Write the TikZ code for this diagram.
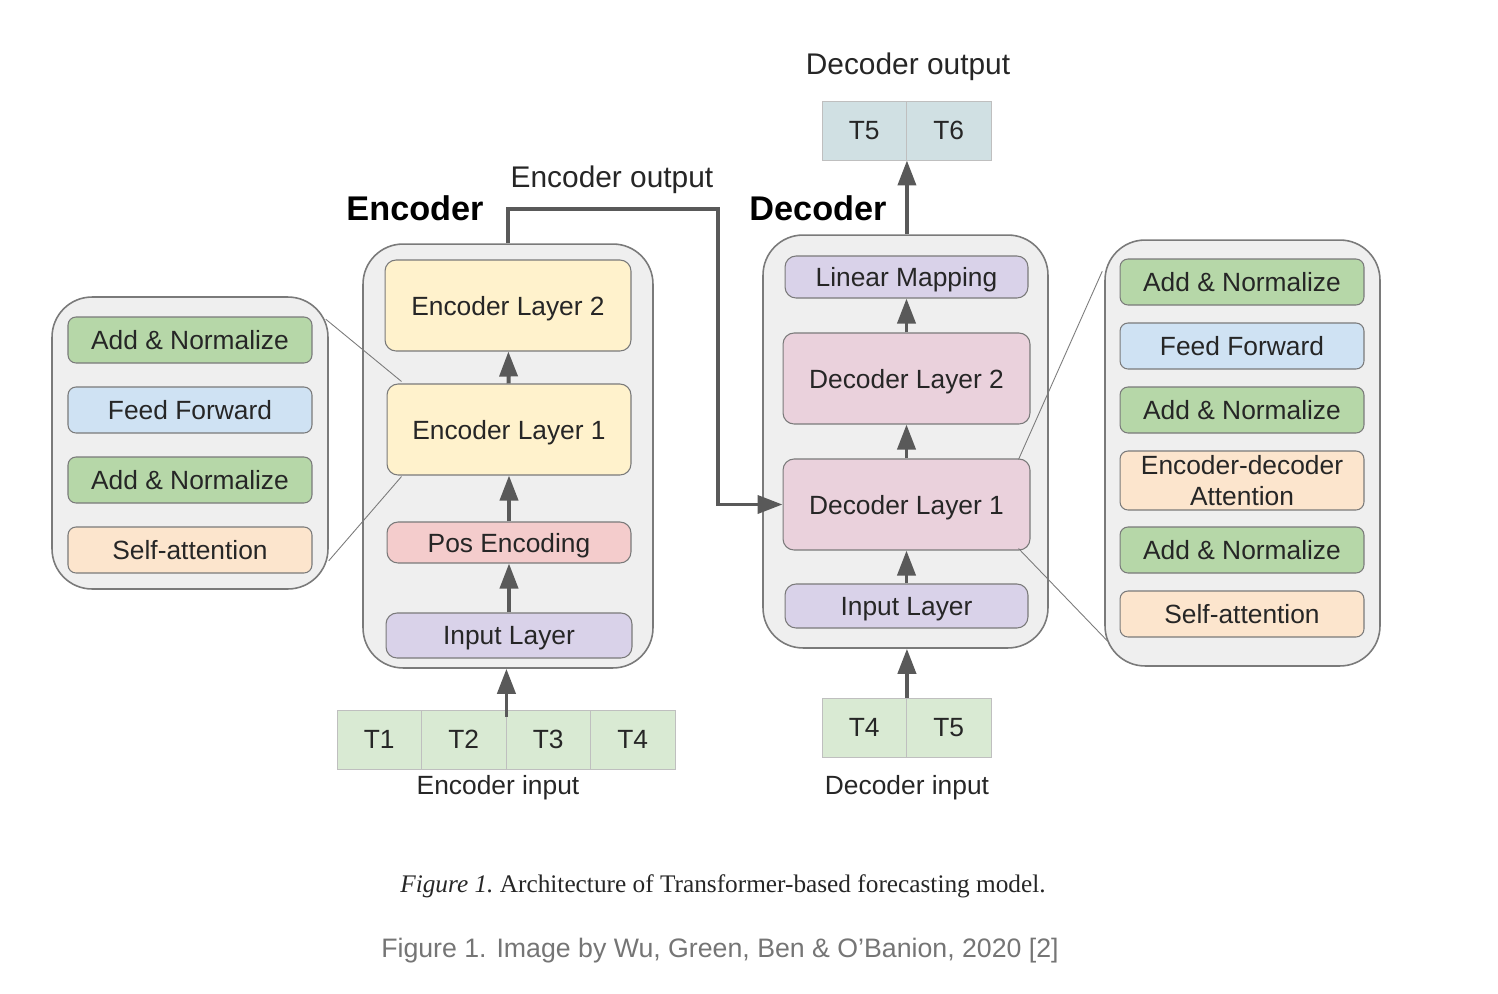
\documentclass[tikz,border=0pt]{standalone}
\usepackage{fontspec}
\setmainfont{Liberation Sans}
\newfontfamily\capfont{Liberation Serif}
\usetikzlibrary{arrows.meta,calc}

\definecolor{boxgray}{HTML}{EFEFEF}
\definecolor{edgegray}{HTML}{7A7A7A}
\definecolor{arrgray}{HTML}{595959}
\definecolor{addgreen}{HTML}{B6D7A8}
\definecolor{ffblue}{HTML}{CFE2F3}
\definecolor{attorange}{HTML}{FCE5CD}
\definecolor{encyellow}{HTML}{FFF2CC}
\definecolor{posred}{HTML}{F4CCCC}
\definecolor{linpurple}{HTML}{D9D2E9}
\definecolor{decpink}{HTML}{EAD1DC}
\definecolor{tokgreen}{HTML}{D9EAD3}
\definecolor{tokcyan}{HTML}{D0E0E3}
\definecolor{capgray}{HTML}{757575}

\tikzset{
  container/.style={draw=edgegray, fill=boxgray, line width=0.9pt, rounded corners=0.8cm, inner sep=0pt},
  layer/.style={draw=edgegray, line width=0.6pt, rounded corners=0.22cm, font=\fontsize{15}{17.5}\selectfont, text=black!85, align=center, inner sep=0pt, text depth=0pt},
  sublayer/.style={layer, minimum width=4.88cm, minimum height=0.92cm, rounded corners=0.16cm},
  tok/.style={draw=black!25, line width=0.5pt, minimum width=1.69cm, minimum height=1.18cm, font=\fontsize{15}{17}\selectfont, text=black!85, inner sep=0pt, text depth=0pt},
  arr/.style={draw=arrgray, line width=2.2pt, -{Triangle[width=0.36cm,length=0.5cm]}},
  zoomline/.style={draw=edgegray, line width=0.5pt},
  lbl/.style={font=\fontsize{15}{17}\selectfont, text=black!85},
}

\begin{document}
\begin{tikzpicture}[x=0.02cm, y=-0.02cm]
\useasboundingbox (0,0) rectangle (1498,994);

% encoder
\node [container, minimum width=5.8cm, minimum height=8.48cm] (encbox) at (508, 456) {};
\node [layer, fill=encyellow, minimum width=4.92cm, minimum height=1.82cm] (el2) at (508, 305.5) {Encoder Layer 2};
\node [layer, fill=encyellow, minimum width=4.88cm, minimum height=1.82cm] (el1) at (509, 429.5) {Encoder Layer 1};
\node [layer, fill=posred, minimum width=4.88cm, minimum height=0.82cm] (pos) at (509, 542.5) {Pos Encoding};
\node [layer, fill=linpurple, minimum width=4.92cm, minimum height=0.9cm] (encin) at (509, 635.5) {Input Layer};
\node [font=\bfseries\fontsize{19.5}{22}\selectfont] (enclabel) at (415, 208) {Encoder};

% encoder layer detail
\node [container, minimum width=5.52cm, minimum height=5.84cm] (encdet) at (190, 443) {};
\node [sublayer, fill=addgreen] (ean2) at (190, 340) {Add \& Normalize};
\node [sublayer, fill=ffblue] (eff) at (190, 410) {Feed Forward};
\node [sublayer, fill=addgreen] (ean1) at (190, 480) {Add \& Normalize};
\node [sublayer, fill=attorange] (esa) at (190, 550) {Self-attention};
\draw [zoomline] ($(encdet.north east)+(-3,23)$) -- ($(el1.north west)+(15,-2)$);
\draw [zoomline] ($(encdet.south east)+(0,-29)$) -- ($(el1.south west)+(15,1)$);

% encoder input
\foreach \i/\x in {1/379.25, 2/463.75, 3/548.25, 4/632.75}
  \node [tok, fill=tokgreen] (et\i) at (\x, 739.5) {T\i};
\node [lbl] (encinlabel) at (498, 788) {Encoder input};

% decoder
\node [container, minimum width=5.7cm, minimum height=8.26cm] (decbox) at (905.5, 441.5) {};
\node [layer, fill=linpurple, minimum width=4.86cm, minimum height=0.84cm] (lin) at (906.5, 277) {Linear Mapping};
\node [layer, fill=decpink, minimum width=4.94cm, minimum height=1.82cm] (dl2) at (906.5, 378.5) {Decoder Layer 2};
\node [layer, fill=decpink, minimum width=4.94cm, minimum height=1.82cm] (dl1) at (906.5, 504.5) {Decoder Layer 1};
\node [layer, fill=linpurple, minimum width=4.86cm, minimum height=0.88cm] (decin) at (906.5, 606) {Input Layer};
\node [font=\bfseries\fontsize{19.5}{22}\selectfont] (declabel) at (818, 208) {Decoder};

% decoder layer detail
\node [container, minimum width=5.5cm, minimum height=8.52cm] (decdet) at (1242.5, 453) {};
\node [sublayer, fill=addgreen] (dan3) at (1242, 282) {Add \& Normalize};
\node [sublayer, fill=ffblue] (dff) at (1242, 346) {Feed Forward};
\node [sublayer, fill=addgreen] (dan2) at (1242, 410) {Add \& Normalize};
\node [sublayer, fill=attorange, minimum height=1.18cm] (dea) at (1242, 480.5) {Encoder-decoder\\Attention};
\node [sublayer, fill=addgreen] (dan1) at (1242, 550) {Add \& Normalize};
\node [sublayer, fill=attorange] (dsa) at (1242, 614) {Self-attention};
\draw [zoomline] ($(dl1.north east)+(-12,1)$) -- ($(decdet.north west)+(-2,32)$);
\draw [zoomline] ($(dl1.south east)+(-12,-2)$) -- ($(decdet.south west)+(3,-26)$);

% decoder input and output
\node [tok, fill=tokcyan] (do5) at (864.25, 130.5) {T5};
\node [tok, fill=tokcyan] (do6) at (948.75, 130.5) {T6};
\node [lbl, font=\fontsize{17}{20}\selectfont] (decoutlabel) at (908, 67) {Decoder output};
\node [tok, fill=tokgreen] (di4) at (864.25, 727.5) {T4};
\node [tok, fill=tokgreen] (di5) at (948.75, 727.5) {T5};
\node [lbl] (decinlabel) at (907, 788) {Decoder input};

% connectors
\draw [arr] (encin) -- (pos);
\draw [arr] (pos) -- (el1);
\draw [arr] (el1) -- (el2);
\draw [arr] ($(et2.north east)+(0,7)$) -- (et2.north east |- encbox.south);
\draw [arr] (decin) -- (dl1);
\draw [arr] (dl1) -- (dl2);
\draw [arr] (dl2) -- (lin);
\draw [arr] (decbox.north -| do5.south east) -- (do5.south east);
\draw [arr] (di4.north east) -- (di4.north east |- decbox.south);
\coordinate (eoturn) at (718, 209);
\draw [arr] (encbox.north) |- (eoturn) |- (dl1.west);
\node [lbl, font=\fontsize{17}{20}\selectfont] (encoutlabel) at (612, 180) {Encoder output};

% captions
\node [font=\capfont\fontsize{14.4}{17}\selectfont, text=black!85] (caption) at (723, 886) {\textit{Figure 1.}\ Architecture of Transformer-based forecasting model.};
\node [font=\fontsize{15.2}{18}\selectfont, text=capgray] (credit) at (720, 951) {Figure 1. Image by Wu, Green, Ben \& O’Banion, 2020 [2]};

\end{tikzpicture}
\end{document}
